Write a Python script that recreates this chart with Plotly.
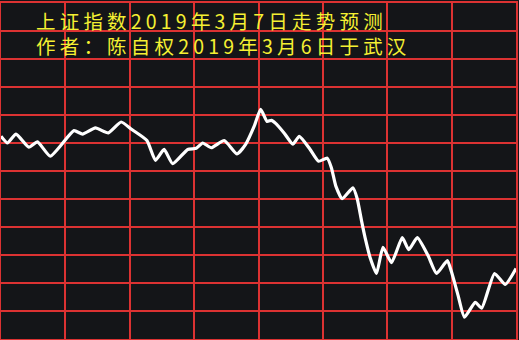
import plotly.graph_objects as go

# Intraday minute (0-240) and relative level (grid units)
minutes = [0, 3, 7, 13, 17, 23, 34, 38, 44, 50, 56, 61, 68, 72, 76, 80, 87, 91, 94, 98,
           104, 110, 114, 118, 121, 124, 126, 128, 132, 136, 139, 144, 148, 152, 154, 156,
           159, 164, 166, 168, 170, 172, 175, 178, 182, 187, 190, 194, 199, 203, 208, 210,
           213, 216, 221, 224, 230, 235, 240]
levels = [7.24, 7.00, 7.32, 6.85, 7.04, 6.53, 7.44, 7.32, 7.54, 7.36, 7.75, 7.48, 7.09, 6.38,
          6.77, 6.26, 6.77, 6.81, 7.00, 6.83, 7.09, 6.61, 6.95, 7.60, 8.20, 7.77, 7.81, 7.70,
          7.35, 6.96, 7.24, 6.78, 6.35, 6.46, 6.11, 5.47, 5.01, 5.40, 5.01, 4.23, 3.51, 2.91,
          2.34, 3.27, 2.73, 3.62, 3.19, 3.62, 2.98, 2.34, 2.80, 2.38, 1.56, 0.78, 1.31, 1.10,
          2.34, 1.95, 2.52]

title1 = "上证指数2019年3月7日走势预测"
title2 = "作者：陈自权2019年3月6日于武汉"

BG = "#141518"
RED = "#dc3232"
YELLOW = "#f5f032"

fig = go.Figure()
fig.add_trace(go.Scatter(x=minutes, y=levels, mode="lines",
                         line=dict(color="white", width=3.2, shape="spline", smoothing=0.5),
                         hoverinfo="skip", showlegend=False))

fig.update_layout(
    width=519, height=340,
    margin=dict(l=1, r=2, t=1, b=1),
    paper_bgcolor=BG, plot_bgcolor=BG,
    xaxis=dict(range=[0, 240], dtick=30, tick0=0, showgrid=True, gridcolor=RED, gridwidth=1.5,
               showticklabels=False, zeroline=False, showline=True, mirror=True,
               linecolor=RED, linewidth=1.5, ticks=""),
    yaxis=dict(range=[0, 12], dtick=1, tick0=0, showgrid=True, gridcolor=RED, gridwidth=1.5,
               showticklabels=False, zeroline=False, showline=True, mirror=True,
               linecolor=RED, linewidth=1.5, ticks=""),
    font=dict(family="Noto Sans CJK SC"),
)

sp = "letter-spacing:4.2px"
text = f'<span style="{sp}">{title1}</span><br><span style="{sp}">{title2}</span>'
fig.add_annotation(text=text, xref="paper", yref="paper", x=(34 - 1) / 516, y=(339 - 31) / 338,
                   xanchor="left", yanchor="middle", align="left", showarrow=False,
                   font=dict(family="Noto Sans CJK SC", size=19.5, color=YELLOW))

fig.write_html("out.html")
